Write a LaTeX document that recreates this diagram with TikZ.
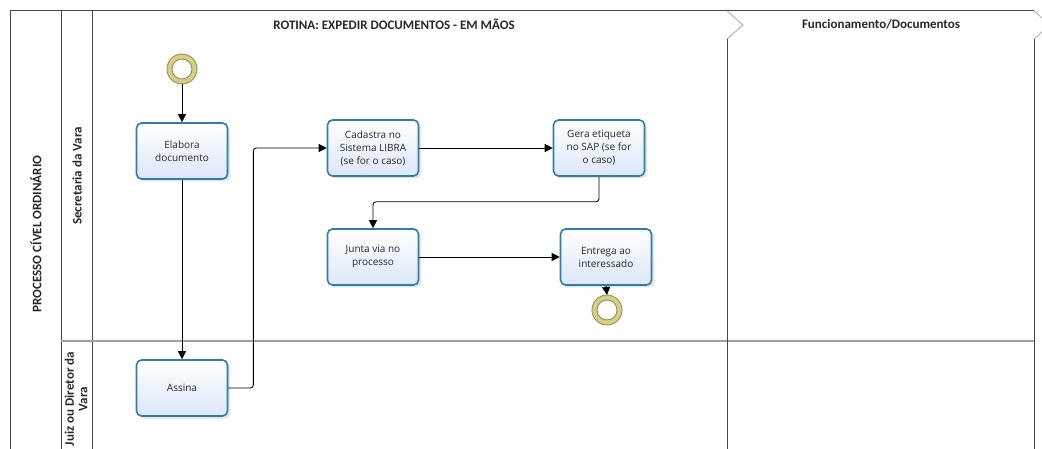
\documentclass[tikz,border=0pt]{standalone}
\usepackage{fontspec}
\setmainfont{Open Sans}
\newfontfamily\hdfont{Carlito}
\usetikzlibrary{arrows.meta,shadows}
\definecolor{taskborder}{RGB}{47,125,168}
\definecolor{taskfill}{RGB}{220,231,248}
\definecolor{evring}{RGB}{214,207,140}
\definecolor{evdark}{RGB}{150,145,70}
\definecolor{framec}{RGB}{70,70,70}
\definecolor{lanegray}{RGB}{160,160,160}
\definecolor{chevc}{RGB}{175,175,175}
\definecolor{txt}{RGB}{40,40,40}
\begin{document}
\begin{tikzpicture}[x=1pt,y=-1pt,
  task/.style={draw=taskborder, line width=1.6pt, rounded corners=5pt,
    top color=white, bottom color=taskfill, minimum width=91pt, minimum height=56pt,
    align=center, inner sep=2pt, font=\fontsize{10}{13}\selectfont, text=txt,
    drop shadow={shadow xshift=2.5pt, shadow yshift=-2.5pt, opacity=0.22}},
  evt/.style={circle, draw=evring, line width=5pt, fill=white, minimum size=25pt, inner sep=0pt,
    drop shadow={shadow xshift=1.5pt, shadow yshift=-1.5pt, opacity=0.2}},
  flow/.style={draw=black, line width=0.9pt, -{Triangle[length=8pt,width=8pt]}, rounded corners=3pt},
  hd/.style={font=\hdfont\bfseries\fontsize{13}{13.5}\selectfont, text=txt},
  framel/.style={draw=framec, line width=1pt},
  lanel/.style={draw=lanegray, line width=1.3pt},
  chev/.style={draw=chevc, line width=0.9pt}]
\useasboundingbox (0,0) rectangle (1042,449);
\begin{scope}
\clip (0,0) rectangle (1042,449);
% frame
\draw[framel] (10,449) -- (10,11) -- (1034,11);
\draw[framel] (61,11) -- (61,449);
\draw[framel] (92,11) -- (92,449);
\draw[lanel] (61,341) -- (1034,341);
\draw[chev] (727,11) -- (743,25) -- (727,39);
\draw[framel] (727,39) -- (727,449);
\draw[chev] (1034,11) -- (1050,25) -- (1034,39);
\draw[framel] (1034,39) -- (1034,449);
% headers
\node[hd] (title) at (394,24) {ROTINA: EXPEDIR DOCUMENTOS - EM MÃOS};
\node[hd] (phase2) at (881,24) {Funcionamento/Documentos};
\node[hd, rotate=90] (pool) at (36,234) {PROCESSO CÍVEL ORDINÁRIO};
\node[hd, rotate=90] (lane1) at (77,176) {Secretaria da Vara};
\node[hd, rotate=90, align=center] (lane2) at (76,399) {Juiz ou Diretor da\\Vara};
% events
\node[evt] (start) at (182,69) {};
\draw[evdark, line width=0.9pt] (start.center) circle[radius=15pt] circle[radius=10pt];
\node[evt] (end) at (607,310) {};
\draw[evdark, line width=0.9pt] (end.center) circle[radius=15pt] circle[radius=10pt];
% tasks
\node[task] (elab) at (182,151) {Elabora\\documento};
\node[task] (assina) at (182,388) {Assina};
\node[task] (cad) at (373,148) {Cadastra no\\Sistema LIBRA\\(se for o caso)};
\node[task] (gera) at (599,148) {Gera etiqueta\\no SAP (se for\\o caso)};
\node[task] (junta) at (373,257) {Junta via no\\processo};
\node[task] (entrega) at (606,257) {Entrega ao\\interessado};
% flows
\draw[flow] (start) -- (elab);
\draw[flow] (elab) -- (assina);
\draw[flow] (assina.east) -- ++(25,0) |- (cad.west);
\draw[flow] (cad) -- (gera);
\draw[flow] (gera.south) -- ++(0,25) -| (junta.north);
\draw[flow] (junta) -- (entrega);
\draw[flow] (entrega.south) -- (end.north);
\end{scope}
\end{tikzpicture}
\end{document}
